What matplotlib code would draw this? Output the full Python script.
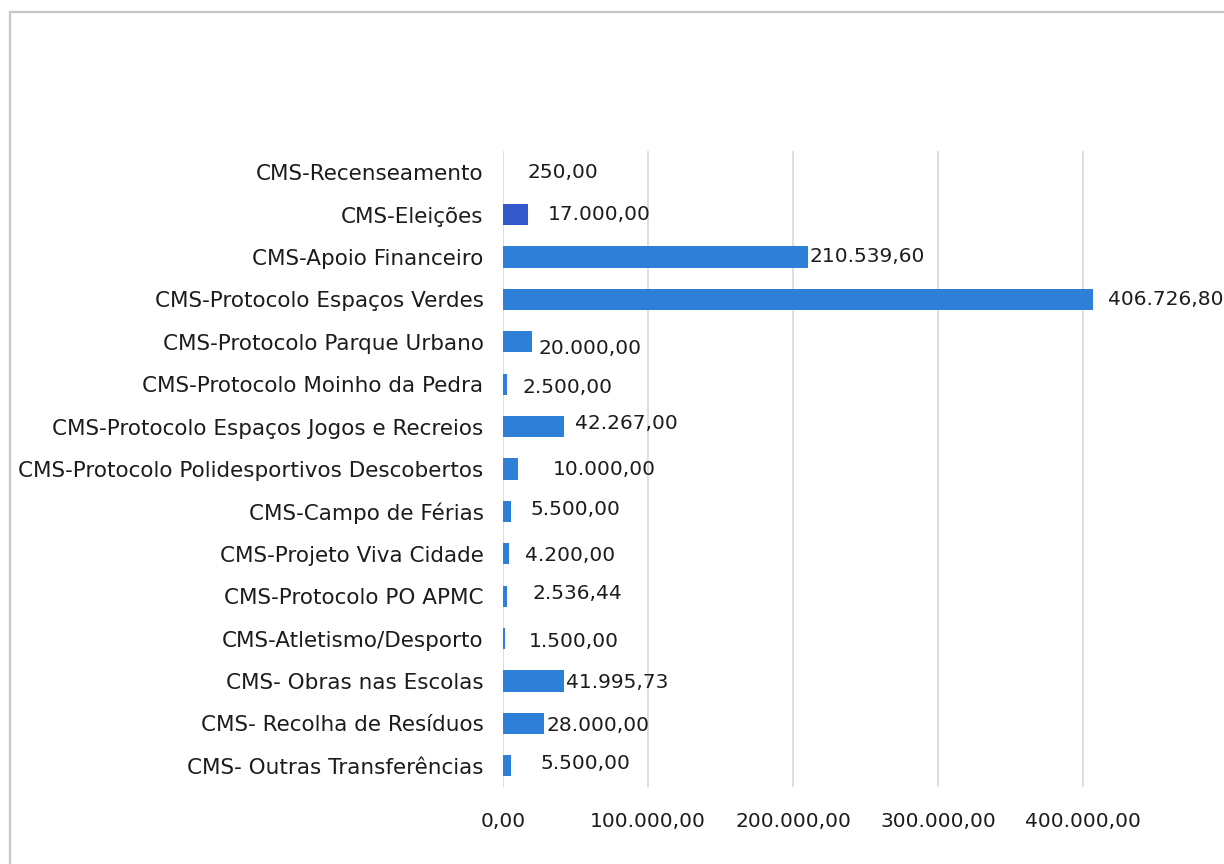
import matplotlib
matplotlib.use("Agg")
import matplotlib.pyplot as plt
from matplotlib.patches import Rectangle

categories = [
    "CMS-Recenseamento",
    "CMS-Eleições",
    "CMS-Apoio Financeiro",
    "CMS-Protocolo Espaços Verdes",
    "CMS-Protocolo Parque Urbano",
    "CMS-Protocolo Moinho da Pedra",
    "CMS-Protocolo Espaços Jogos e Recreios",
    "CMS-Protocolo Polidesportivos Descobertos",
    "CMS-Campo de Férias",
    "CMS-Projeto Viva Cidade",
    "CMS-Protocolo PO APMC",
    "CMS-Atletismo/Desporto",
    "CMS- Obras nas Escolas",
    "CMS- Recolha de Resíduos",
    "CMS- Outras Transferências",
]
values = [250.00, 17000.00, 210539.60, 406726.80, 20000.00, 2500.00, 42267.00,
          10000.00, 5500.00, 4200.00, 2536.44, 1500.00, 41995.73, 28000.00, 5500.00]
xticks = [0, 100000, 200000, 300000, 400000]

# label offsets in pixels (dx, dy) as moved in the original
label_dx = [24, 20, 1, 15, 6, 16, 11, 35, 20, 16, 26, 24, 2, 3, 30]
label_dy = [0, 0, 0, 0, -7, -3, 3, 0, 2, -2, 3, -3, -2, -2, 2]


def fmt(v):
    s = f"{v:,.2f}"
    return s.replace(",", "X").replace(".", ",").replace("X", ".")


W, H = 1224, 864
fig = plt.figure(figsize=(W / 100, H / 100), dpi=100)
fig.patch.set_facecolor("white")

# outer chart frame
fig.patches.append(Rectangle((10 / W, -0.05), 1.1, 1 - 12 / H + 0.05,
                             transform=fig.transFigure, fill=False,
                             edgecolor="#c6c6c6", linewidth=1.6))

ax = fig.add_axes([503 / W, 1 - 787 / H, 725 / W, 636 / H])
ax.set_xlim(0, 500000)
ax.set_ylim(len(categories) - 0.5, -0.5)

colors = ["#2E7FD8"] * len(categories)
colors[1] = "#3358CC"
ypos = list(range(len(categories)))
bars = ax.barh(ypos, values, height=0.5, color=colors, zorder=3)

for i, (b, v) in enumerate(zip(bars, values)):
    ax.annotate(fmt(v), xy=(v, i), xytext=(label_dx[i], label_dy[i]),
                textcoords="offset pixels", ha="left", va="center",
                fontsize=14.5, color="#1c1c1c", zorder=4)

ax.set_yticks(ypos)
ax.set_yticklabels(categories, fontsize=15.5, color="#1c1c1c")
ax.set_xticks(xticks)
ax.set_xticklabels([fmt(t) for t in xticks], fontsize=14.5, color="#1c1c1c")
ax.tick_params(axis="y", length=0, pad=14)
ax.tick_params(axis="x", length=0, pad=18)
ax.grid(axis="x", color="#d9d9d9", linewidth=1.2, zorder=0)
for s in ax.spines.values():
    s.set_visible(False)

fig.savefig("out.png", dpi=100, facecolor="white")
